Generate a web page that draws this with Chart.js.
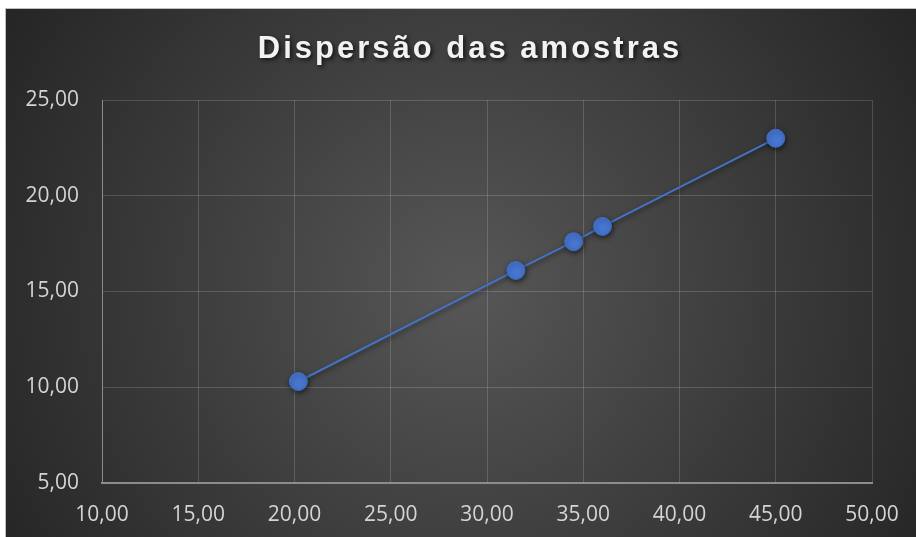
<!DOCTYPE html>
<html>
<head>
<meta charset="utf-8">
<script src="https://cdn.jsdelivr.net/npm/chart.js@4/dist/chart.umd.min.js"></script>
<style>
  html, body { margin: 0; padding: 0; background: #ffffff; }
  #wrap { width: 916px; height: 537px; position: relative; }
</style>
</head>
<body>
<div id="wrap"><canvas id="chart" width="916" height="537"></canvas></div>
<script>
// values
const titleText = "Dispersão das amostras";
const sampleX = [20.2, 31.5, 34.5, 36.0, 45.0];
const sampleY = [10.3, 16.1, 17.6, 18.4, 23.0];
const xTicks = [10, 15, 20, 25, 30, 35, 40, 45, 50];
const yTicks = [5, 10, 15, 20, 25];

const fmt = v => Number(v).toFixed(2).replace(".", ",");

// dark radial background + frame
const backgroundPlugin = {
    id: "bg",
    beforeDraw(chart) {
        const ctx = chart.ctx;
        const w = chart.width, h = chart.height;
        ctx.save();
        ctx.fillStyle = "#ffffff";
        ctx.fillRect(0, 0, w, h);
        const g = ctx.createRadialGradient(465, 290, 0, 465, 290, 560);
        g.addColorStop(0, "#575757");
        g.addColorStop(0.55, "#3a3a3a");
        g.addColorStop(1, "#232323");
        ctx.fillStyle = g;
        ctx.fillRect(6, 9, w - 6, h - 9);
        ctx.strokeStyle = "#bfbfbf";
        ctx.lineWidth = 1;
        ctx.strokeRect(5.5, 8.5, w + 10, h + 10);
        ctx.restore();
    }
};

// title with letter spacing and shadow
const titlePlugin = {
    id: "spacedTitle",
    afterDraw(chart) {
        const ctx = chart.ctx;
        ctx.save();
        ctx.font = "bold 31px 'Liberation Sans', Arial, sans-serif";
        ctx.letterSpacing = "3px";
        ctx.textAlign = "center";
        ctx.textBaseline = "middle";
        ctx.shadowColor = "rgba(0,0,0,0.7)";
        ctx.shadowBlur = 4;
        ctx.shadowOffsetX = 2;
        ctx.shadowOffsetY = 2;
        ctx.fillStyle = "#f2f2f2";
        ctx.fillText(titleText, 470, 49);
        ctx.restore();
    }
};

// soft shadow under the line and markers
const shadowPlugin = {
    id: "markerShadow",
    beforeDatasetDraw(chart) {
        const ctx = chart.ctx;
        ctx.save();
        ctx.shadowColor = "rgba(0,0,0,0.55)";
        ctx.shadowBlur = 5;
        ctx.shadowOffsetX = 1;
        ctx.shadowOffsetY = 2;
    },
    afterDatasetDraw(chart) {
        chart.ctx.restore();
    }
};

new Chart(document.getElementById("chart").getContext("2d"), {
    type: "scatter",
    data: {
        datasets: [{
            label: "Amostras",
            data: sampleX.map((x, i) => ({ x: x, y: sampleY[i] })),
            showLine: true,
            borderColor: "#4472c4",
            borderWidth: 2,
            pointRadius: 9,
            pointHoverRadius: 9,
            pointBackgroundColor: "#4676d0",
            pointBorderColor: "#3f6cc2",
            pointBorderWidth: 1
        }]
    },
    options: {
        responsive: false,
        animation: false,
        layout: { padding: { top: 100, left: 0, right: 44, bottom: 0 } },
        plugins: {
            legend: { display: false },
            title: { display: false },
            tooltip: { enabled: false }
        },
        scales: {
            x: {
                type: "linear",
                min: 10,
                max: 50,
                afterBuildTicks: axis => { axis.ticks = xTicks.map(v => ({ value: v })); },
                afterFit: axis => {
                    axis.height = 54;
                    axis.paddingLeft = 0;
                    axis.paddingRight = 0;
                },
                ticks: {
                    color: "#d4d4d4",
                    padding: 19,
                    maxRotation: 0,
                    font: { family: "'Open Sans', sans-serif", size: 21 },
                    callback: v => fmt(v)
                },
                grid: { color: "rgba(255,255,255,0.16)", lineWidth: 1, drawTicks: false },
                border: { color: "#8c8c8c", width: 2 }
            },
            y: {
                type: "linear",
                min: 5,
                max: 25,
                afterBuildTicks: axis => { axis.ticks = yTicks.map(v => ({ value: v })); },
                afterFit: axis => { axis.width = 102; },
                ticks: {
                    color: "#d4d4d4",
                    padding: 23,
                    font: { family: "'Open Sans', sans-serif", size: 21 },
                    callback: v => fmt(v)
                },
                grid: { color: "rgba(255,255,255,0.16)", lineWidth: 1, drawTicks: false },
                border: { color: "#8c8c8c", width: 1 }
            }
        }
    },
    plugins: [backgroundPlugin, titlePlugin, shadowPlugin]
});
</script>
</body>
</html>
